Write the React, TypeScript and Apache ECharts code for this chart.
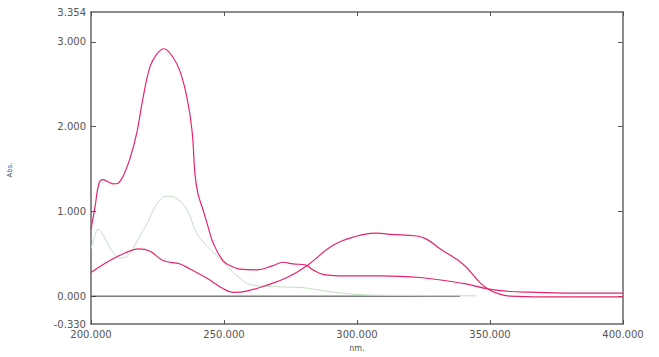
import React, { useEffect, useRef } from "react";
import * as echarts from "echarts";

// Wavelength (nm) / absorbance pairs
const magentaPeak: [number, number][] = [
  [200, 0.79], [201.5, 1.05], [203.0, 1.33], [204.5, 1.375], [206.4, 1.35], [208.5, 1.325],
  [210.0, 1.33], [211.2, 1.37], [212.3, 1.43], [214.7, 1.63], [217.3, 1.94], [219.5, 2.33],
  [222.2, 2.71], [224.8, 2.86], [227.4, 2.92], [230.8, 2.82], [233.5, 2.65], [236.1, 2.34],
  [238.0, 1.95], [239.1, 1.44], [240.2, 1.21], [242.1, 1.02], [244.0, 0.82], [245.9, 0.63],
  [249.6, 0.42], [253, 0.35], [256.0, 0.32], [262.4, 0.31], [268.4, 0.36], [272.2, 0.40],
  [275.9, 0.38], [280.5, 0.37], [283.5, 0.31], [287.5, 0.255], [296.2, 0.24], [308.6, 0.24],
  [323.7, 0.22], [339.8, 0.15], [349.2, 0.085], [357.5, 0.055], [365, 0.047], [383.8, 0.035],
  [400, 0.035],
];

const magentaBand: [number, number][] = [
  [200, 0.28], [207.1, 0.42], [212.8, 0.51], [217.7, 0.557], [222.2, 0.53], [227.1, 0.42],
  [233.5, 0.38], [237.2, 0.32], [243.6, 0.21], [249.6, 0.09], [253.4, 0.045], [258.6, 0.06],
  [266.2, 0.13], [273.7, 0.22], [281.2, 0.36], [291.0, 0.60], [300.0, 0.71], [304.9, 0.74],
  [307.5, 0.745], [312.4, 0.73], [322.6, 0.71], [326.3, 0.67], [331.2, 0.56], [339.8, 0.38],
  [346.2, 0.16], [350.0, 0.07], [354, 0.02], [357.5, 0.0], [370, -0.008], [400, -0.008],
];

const greenTrace: [number, number][] = [
  [200, 0.56], [201.5, 0.72], [202.6, 0.79], [204.2, 0.74], [207.1, 0.57], [209.4, 0.48],
  [211.7, 0.45], [213.5, 0.47], [215.8, 0.56], [218.5, 0.72], [221.1, 0.86], [224.8, 1.09],
  [228.6, 1.18], [232.3, 1.15], [236.1, 1.02], [239.8, 0.74], [243.6, 0.59], [248.5, 0.44],
  [254.9, 0.24], [260.9, 0.13], [271.1, 0.11], [279.7, 0.10], [286.1, 0.07], [296.2, 0.03],
  [308.6, 0.01], [338.7, 0.005], [345, 0.003],
];

const baseline: [number, number][] = [
  [200, 0], [338.7, 0],
];

const yLabelValues = [-0.33, 0, 1, 2, 3, 3.354];
const yTickValues = [0, 1, 2, 3];
const xMin = 200;
const xMax = 400;
const xStep = 50;
const yMin = -0.33;
const yMax = 3.354;

export default function App() {
  const ref = useRef<HTMLDivElement>(null);

  useEffect(() => {
    if (!ref.current) return;
    const chart = echarts.init(ref.current, undefined, { renderer: "svg" });
    const axisLine = { show: true, onZero: false, lineStyle: { color: "#666", width: 1.5 } };
    const labelStyle = {
      color: "#555",
      fontSize: 10,
      fontFamily: "DejaVu Sans",
    };
    const magenta = "#e6246e";
    chart.setOption({
      animation: false,
      backgroundColor: "#fff",
      grid: { left: 91, right: 36, top: 12, bottom: 27.6, containLabel: false },
      graphic: [
        {
          type: "text",
          x: 10,
          y: 170,
          rotation: Math.PI / 2,
          style: {
            text: "Abs.",
            fontSize: 7,
            fill: "#555",
            fontFamily: "DejaVu Sans",
            align: "center",
            verticalAlign: "middle",
          },
        },
      ],
      xAxis: [
        {
          type: "value",
          position: "bottom",
          min: xMin,
          max: xMax,
          interval: xStep,
          name: "nm.",
          nameLocation: "middle",
          nameGap: 13,
          nameTextStyle: { color: "#555", fontSize: 8, fontFamily: "DejaVu Sans" },
          axisLine,
          axisTick: { show: true, inside: true, length: 4, lineStyle: { color: "#555" } },
          axisLabel: { ...labelStyle, margin: 5, formatter: (v: number) => v.toFixed(3) },
          splitLine: { show: false },
        },
        {
          type: "value",
          position: "top",
          min: xMin,
          max: xMax,
          interval: xStep,
          axisLine,
          axisTick: { show: true, inside: true, length: 4, lineStyle: { color: "#555" } },
          axisLabel: { show: false },
          splitLine: { show: false },
        },
      ],
      yAxis: [
        {
          type: "value",
          position: "left",
          min: yMin,
          max: yMax,
          axisLine,
          axisTick: {
            show: true,
            inside: true,
            length: 5,
            customValues: yTickValues,
            lineStyle: { color: "#555" },
          },
          axisLabel: {
            ...labelStyle,
            margin: 5,
            customValues: yLabelValues,
            formatter: (v: number) => v.toFixed(3),
          },
          splitLine: { show: false },
        },
        {
          type: "value",
          position: "right",
          min: yMin,
          max: yMax,
          axisLine,
          axisTick: {
            show: true,
            inside: true,
            length: 5,
            customValues: yTickValues,
            lineStyle: { color: "#555" },
          },
          axisLabel: { show: false },
          splitLine: { show: false },
        },
      ],
      series: [
        {
          type: "line",
          data: baseline,
          showSymbol: false,
          lineStyle: { color: "#2f3f2f", width: 1 },
          z: 1,
        },
        {
          type: "line",
          data: greenTrace,
          smooth: 0.4,
          showSymbol: false,
          lineStyle: { color: "#bfe0bf", width: 1 },
          z: 2,
        },
        {
          type: "line",
          data: magentaBand,
          smooth: 0.4,
          showSymbol: false,
          lineStyle: { color: magenta, width: 1.2 },
          z: 3,
        },
        {
          type: "line",
          data: magentaPeak,
          smooth: 0.4,
          showSymbol: false,
          lineStyle: { color: magenta, width: 1.2 },
          z: 4,
        },
      ],
    });
    return () => chart.dispose();
  }, []);

  return (
    <div
      ref={ref}
      style={{ position: "fixed", left: 0, top: 0, width: 659, height: 357 }}
    />
  );
}
